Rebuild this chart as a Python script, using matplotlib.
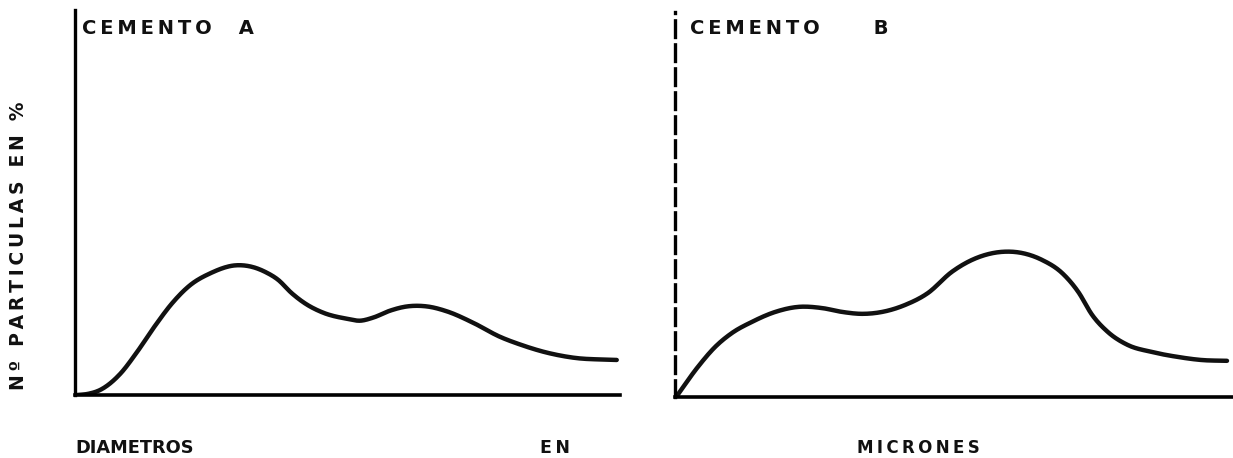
import matplotlib
matplotlib.use("Agg")
import matplotlib.pyplot as plt
import numpy as np


W, H = 1233, 458

# curva granulometrica, cemento A (x: % del eje, y: % del eje)
diam_a = [0.4, 2.4, 4.6, 8.3, 11.4, 14.7, 17.8, 21.1, 24.8, 29.7, 32.7, 35.0,
          37.2, 39.8, 42.2, 45.5, 49.9, 52.3, 54.7, 57.8, 60.9, 64.6, 68.3,
          73.0, 78.0, 81.7, 86.6, 91.4, 99.4]
part_a = [0.0, 0.3, 1.3, 5.5, 11.2, 18.0, 23.8, 28.5, 31.6, 33.7, 33.2, 31.9,
          30.0, 26.4, 23.8, 21.4, 19.8, 19.3, 20.1, 21.9, 23.0, 23.0, 21.7,
          18.8, 15.1, 13.1, 11.0, 9.7, 9.1]

# cemento B
diam_b = [0.2, 4.1, 7.2, 10.2, 13.8, 18.0, 22.1, 26.4, 30.0, 33.6, 37.2,
          41.3, 45.4, 49.7, 52.6, 55.7, 58.7, 62.3, 65.9, 69.5, 72.4,
          74.9, 77.7, 81.3, 85.6, 90.3, 94.6, 99.1]
part_b = [0.0, 7.8, 13.0, 16.6, 19.5, 22.1, 23.4, 23.1, 22.1, 21.6, 22.1,
          23.9, 27.0, 32.5, 35.1, 36.9, 37.7, 37.4, 35.6, 32.2, 27.3,
          21.3, 16.9, 13.5, 11.7, 10.4, 9.6, 9.4]


def smooth(x, y, n=20):
    # hermite cubico y(x) con pendientes centradas
    x = np.asarray(x, float)
    y = np.asarray(y, float)
    d = np.diff(y) / np.diff(x)
    m = np.empty_like(y)
    m[0], m[-1] = d[0], d[-1]
    h = np.diff(x)
    m[1:-1] = (d[:-1] * h[1:] + d[1:] * h[:-1]) / (h[:-1] + h[1:])
    xs, ys = [], []
    t = np.linspace(0, 1, n, endpoint=False)
    for i in range(len(x) - 1):
        h00 = 2 * t ** 3 - 3 * t ** 2 + 1
        h10 = t ** 3 - 2 * t ** 2 + t
        h01 = -2 * t ** 3 + 3 * t ** 2
        h11 = t ** 3 - t ** 2
        xs.extend(x[i] + t * h[i])
        ys.extend(h00 * y[i] + h10 * h[i] * m[i] + h01 * y[i + 1]
                  + h11 * h[i] * m[i + 1])
    xs.append(x[-1])
    ys.append(y[-1])
    return xs, ys


def panel(fig, x0, x1, top, base, dashed):
    ax = fig.add_axes([x0 / W, 1 - base / H, (x1 - x0) / W, (base - top) / H])
    ax.set_xlim(0, 100)
    ax.set_ylim(0, 100)
    for s in ("top", "right"):
        ax.spines[s].set_visible(False)
    ax.spines["bottom"].set_linewidth(2.6)
    ax.spines["left"].set_linewidth(2.4)
    if dashed:
        ax.spines["left"].set_linestyle((0, (5, 2.2)))
    ax.set_xticks([])
    ax.set_yticks([])
    ax.patch.set_alpha(0)
    return ax


def spaced(s):
    return "\u2009".join(s)


fig = plt.figure(figsize=(W / 100, H / 100), dpi=100)

ax1 = panel(fig, 75, 620, 10, 395, False)
ax1.plot(*smooth(diam_a, part_a), color="#111111", lw=3.2,
         solid_capstyle="round")

ax2 = panel(fig, 675, 1232, 12, 397, True)
ax2.plot(*smooth(diam_b, part_b), color="#111111", lw=3.2,
         solid_capstyle="round")

txt = dict(color="#111111", fontweight="heavy", family="DejaVu Sans")
fig.text(82 / W, 1 - 28 / H, spaced("CEMENTO") + "    A", fontsize=14,
         va="center", **txt)
fig.text(690 / W, 1 - 28 / H, spaced("CEMENTO") + "        B", fontsize=14,
         va="center", **txt)
fig.text(19 / W, 1 - 246 / H, spaced("Nº PARTICULAS EN %"), fontsize=13.5,
         rotation=90, ha="center", va="center", **txt)
fig.text(75 / W, 1 - 448 / H, "DIAMETROS", fontsize=12.8, va="center", **txt)
fig.text(540 / W, 1 - 448 / H, spaced("EN"), fontsize=12.5, va="center", **txt)
fig.text(857 / W, 1 - 448 / H, spaced("MICRONES"), fontsize=12, va="center",
         **txt)

fig.savefig("out.png", dpi=100)
